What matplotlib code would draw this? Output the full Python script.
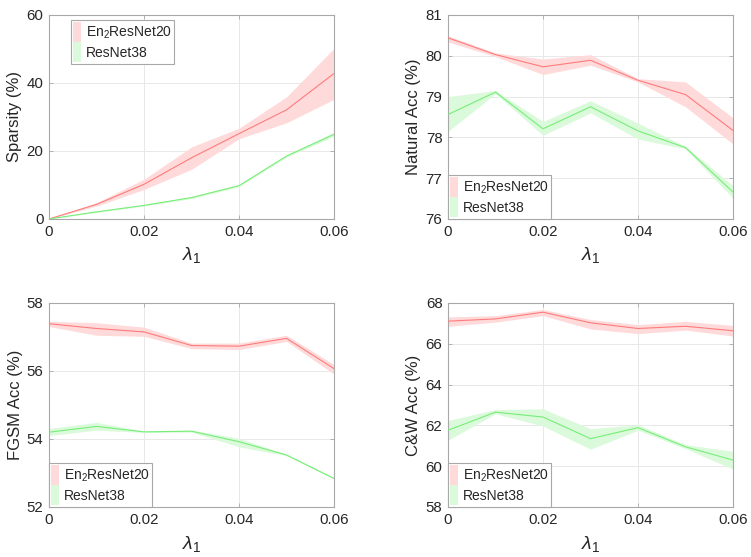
import matplotlib
matplotlib.use("Agg")
import matplotlib.pyplot as plt
from matplotlib.patches import Patch
import numpy as np

plt.rcParams['font.family'] = ['Liberation Sans', 'DejaVu Sans']
plt.rcParams['mathtext.fontset'] = 'custom'
plt.rcParams['mathtext.rm'] = 'Liberation Sans'
plt.rcParams['mathtext.it'] = 'Liberation Sans:italic'

lam = [0, 0.01, 0.02, 0.03, 0.04, 0.05, 0.06]
series_names = ['En$_2$ResNet20', 'ResNet38']

# Sparsity (%)
sp_en_mean = [0, 4.3, 10.2, 18.0, 25.1, 32.1, 42.8]
sp_en_low = [0, 3.8, 8.7, 14.6, 23.6, 28.3, 35.2]
sp_en_high = [0, 4.8, 11.7, 21.2, 26.7, 35.9, 50.2]
sp_rn_mean = [0, 2.1, 4.0, 6.3, 9.8, 18.5, 24.9]
sp_rn_low = [0, 1.9, 3.8, 6.0, 9.5, 18.2, 24.3]
sp_rn_high = [0, 2.3, 4.2, 6.6, 10.1, 18.8, 25.5]

# Natural Acc (%)
na_en_mean = [80.44, 80.03, 79.73, 79.89, 79.40, 79.05, 78.17]
na_en_low = [80.34, 79.98, 79.54, 79.77, 79.36, 78.75, 77.84]
na_en_high = [80.49, 80.07, 79.92, 80.03, 79.44, 79.36, 78.48]
na_rn_mean = [78.56, 79.11, 78.21, 78.75, 78.16, 77.75, 76.66]
na_rn_low = [78.15, 79.07, 78.05, 78.60, 77.96, 77.72, 76.51]
na_rn_high = [79.00, 79.15, 78.39, 78.90, 78.35, 77.78, 76.82]

# FGSM Acc (%)
fg_en_mean = [57.39, 57.25, 57.15, 56.75, 56.73, 56.96, 56.07]
fg_en_low = [57.31, 57.05, 57.02, 56.66, 56.63, 56.87, 55.91]
fg_en_high = [57.46, 57.42, 57.29, 56.82, 56.82, 57.05, 56.19]
fg_rn_mean = [54.20, 54.37, 54.21, 54.23, 53.92, 53.53, 52.84]
fg_rn_low = [54.10, 54.26, 54.19, 54.20, 53.77, 53.51, 52.82]
fg_rn_high = [54.31, 54.49, 54.23, 54.26, 54.02, 53.55, 52.86]

# C&W Acc (%)
cw_en_mean = [67.11, 67.22, 67.55, 67.03, 66.75, 66.86, 66.64]
cw_en_low = [66.86, 67.06, 67.38, 66.73, 66.50, 66.67, 66.38]
cw_en_high = [67.32, 67.38, 67.68, 67.19, 66.94, 67.10, 66.90]
cw_rn_mean = [61.76, 62.65, 62.41, 61.35, 61.89, 60.95, 60.30]
cw_rn_low = [61.27, 62.57, 61.97, 60.83, 61.76, 60.86, 59.86]
cw_rn_high = [62.24, 62.78, 62.81, 61.84, 62.03, 61.06, 60.73]

panels = [
    dict(ylabel='Sparsity (%)', ylim=(0, 60), yticks=[0, 20, 40, 60],
         en=(sp_en_mean, sp_en_low, sp_en_high), rn=(sp_rn_mean, sp_rn_low, sp_rn_high),
         legend='top'),
    dict(ylabel='Natural Acc (%)', ylim=(76, 81), yticks=[76, 77, 78, 79, 80, 81],
         en=(na_en_mean, na_en_low, na_en_high), rn=(na_rn_mean, na_rn_low, na_rn_high),
         legend='bottom'),
    dict(ylabel='FGSM Acc (%)', ylim=(52, 58), yticks=[52, 54, 56, 58],
         en=(fg_en_mean, fg_en_low, fg_en_high), rn=(fg_rn_mean, fg_rn_low, fg_rn_high),
         legend='bottom'),
    dict(ylabel='C&W Acc (%)', ylim=(58, 68), yticks=[58, 60, 62, 64, 66, 68],
         en=(cw_en_mean, cw_en_low, cw_en_high), rn=(cw_rn_mean, cw_rn_low, cw_rn_high),
         legend='bottom'),
]

W, H = 751, 557
fig = plt.figure(figsize=(W / 100, H / 100), dpi=100)
boxes = [(49, 15), (448, 15), (49, 303), (448, 303)]
aw, ah = 285, 204

red_line = '#ff7b7b'
red_fill = '#ffdada'
green_line = '#77ee77'
green_fill = '#dbfadb'
edge = '#a8a8a8'
txt = '#262626'

for (px, py), p in zip(boxes, panels):
    ax = fig.add_axes([px / W, 1 - (py + ah) / H, aw / W, ah / H])
    ax.fill_between(lam, p['en'][1], p['en'][2], color=red_fill, lw=0, zorder=1)
    ax.fill_between(lam, p['rn'][1], p['rn'][2], color=green_fill, lw=0, zorder=1)
    ax.plot(lam, p['en'][0], color=red_line, lw=0.8, zorder=3)
    ax.plot(lam, p['rn'][0], color=green_line, lw=0.8, zorder=3)
    ax.set_xlim(0, 0.06)
    ax.set_ylim(*p['ylim'])
    ax.set_xticks([0, 0.02, 0.04, 0.06])
    ax.set_xticklabels(['0', '0.02', '0.04', '0.06'])
    ax.set_yticks(p['yticks'])
    ax.grid(True, color='#e8e8e8', lw=0.7, zorder=0)
    ax.set_axisbelow(True)
    for s in ax.spines.values():
        s.set_color(edge)
        s.set_linewidth(0.8)
    ax.tick_params(direction='in', length=3, width=0.6, color=edge, labelsize=10.8,
                   labelcolor=txt, top=True, right=True, pad=4)
    ax.set_ylabel(p['ylabel'], fontsize=12, color=txt, labelpad=3)
    ax.set_xlabel(r'$\lambda_1$', fontsize=14, color=txt, labelpad=5)
    handles = [Patch(facecolor=red_fill, edgecolor='none'),
               Patch(facecolor=green_fill, edgecolor='none')]
    common = dict(fontsize=10, handlelength=0.6, handleheight=1.8, handletextpad=0.35,
                  labelspacing=0.05, borderpad=0.15, fancybox=False, framealpha=1,
                  edgecolor=edge, borderaxespad=0)
    if p['legend'] == 'top':
        leg = ax.legend(handles, series_names, loc='upper left',
                        bbox_to_anchor=(22 / aw, 1 - 5 / ah), **common)
    else:
        leg = ax.legend(handles, series_names, loc='lower left',
                        bbox_to_anchor=(0, 0), **common)
    leg.get_frame().set_linewidth(0.8)
    leg.set_zorder(5)
    for t in leg.get_texts():
        t.set_color(txt)

fig.savefig('out.png', dpi=100, facecolor='white')
